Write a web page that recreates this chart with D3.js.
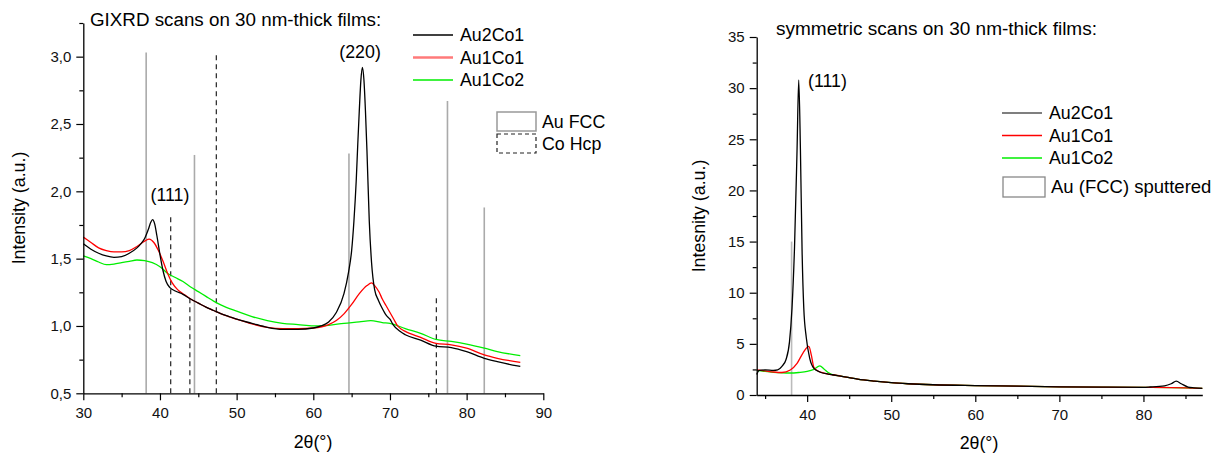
<!DOCTYPE html>
<html>
<head>
<meta charset="utf-8">
<script src="https://cdn.jsdelivr.net/npm/d3@7"></script>
<style>
body { margin: 0; background: #fff; }
svg { font-family: "Liberation Sans", Arial, sans-serif; }
.domain { stroke: #000; stroke-width: 1.3; }
.tick line { stroke: #000; stroke-width: 1.2; }
.tick text { font-size: 15px; fill: #111; }
</style>
</head>
<body>
<svg id="chart" width="1215" height="454"></svg>
<script>
// GIXRD scans (left panel), [2theta, intensity]
const gixrdAu2Co1 = [[30,1.61],[31,1.57],[32,1.54],[33,1.52],[34,1.51],[35,1.515],[36,1.54],[37,1.58],[37.5,1.61],[38,1.65],[38.5,1.72],[38.8,1.77],[39.05,1.79],[39.3,1.76],[39.6,1.67],[40,1.53],[40.4,1.41],[40.8,1.33],[41.3,1.285],[42,1.26],[43,1.235],[44,1.2],[45,1.17],[46,1.14],[47,1.115],[48,1.09],[49,1.07],[50,1.05],[52,1.02],[54,0.99],[56,0.975],[58,0.975],[60,0.985],[61,1.0],[62,1.03],[63,1.1],[64,1.24],[64.6,1.4],[65,1.56],[65.3,1.78],[65.6,2.08],[65.8,2.35],[66,2.6],[66.2,2.82],[66.4,2.92],[66.6,2.83],[66.8,2.6],[67,2.3],[67.3,1.78],[67.6,1.47],[68,1.27],[68.5,1.19],[69,1.13],[69.5,1.08],[70,1.05],[70.4,1.01],[71.3,0.96],[72,0.935],[74,0.895],[76,0.85],[78,0.84],[80,0.81],[82.3,0.76],[84,0.735],[86,0.71],[87,0.70]];
const gixrdAu1Co1 = [[30,1.66],[31,1.62],[32,1.58],[33,1.56],[34,1.55],[35,1.55],[36,1.56],[37,1.59],[38,1.63],[38.6,1.645],[39.2,1.62],[39.8,1.56],[40.4,1.48],[41,1.39],[41.6,1.32],[42.3,1.27],[43,1.24],[44,1.2],[45,1.17],[46,1.14],[47,1.115],[48,1.09],[50,1.05],[52,1.015],[54,0.99],[56,0.98],[58,0.98],[60,0.985],[62,1.01],[63,1.04],[64,1.09],[65,1.16],[66,1.24],[67,1.3],[67.6,1.32],[68,1.3],[68.6,1.25],[69,1.2],[69.5,1.15],[70,1.1],[70.5,1.05],[71,1.0],[71.5,0.975],[72,0.96],[74,0.915],[76,0.87],[78,0.86],[80,0.835],[82.3,0.785],[84,0.76],[87,0.73]];
const gixrdAu1Co2 = [[30,1.52],[31,1.5],[32,1.475],[33,1.455],[34,1.46],[35,1.47],[36,1.48],[37,1.49],[38,1.485],[39,1.47],[40,1.44],[41,1.39],[42,1.36],[43,1.33],[44,1.29],[45,1.255],[46,1.22],[47,1.185],[48,1.155],[50,1.11],[52,1.07],[54,1.04],[56,1.02],[58,1.01],[60,1.0],[62,1.005],[64,1.02],[66,1.03],[67.5,1.04],[69,1.025],[70,1.02],[72,0.98],[74,0.945],[76,0.9],[78,0.885],[80,0.865],[82.3,0.835],[84,0.81],[87,0.78]];

// reference peak positions [2theta, line top]
const auFccRefs = [[38.2,3.03],[44.5,2.27],[64.65,2.28],[77.5,2.67],[82.3,1.88]];
const coHcpRefs = [[41.4,1.82],[43.9,1.2],[47.35,3.03],[76.05,1.22]];

// symmetric scans (right panel)
const symAu2Co1 = [[34,2.0],[34.3,2.4],[35,2.45],[36,2.4],[36.5,2.45],[37,2.8],[37.5,3.5],[37.9,5.2],[38.2,8.5],[38.5,14.5],[38.8,24],[39.0,30.8],[39.2,24],[39.4,14],[39.6,8.5],[39.9,5.6],[40.3,3.6],[40.8,2.6],[41.5,2.25],[42.5,2.05],[43,1.98],[44,1.85],[45,1.7],[46,1.55],[48,1.35],[50,1.2],[52,1.1],[55,1.0],[60,0.92],[65,0.86],[70,0.8],[75,0.77],[80,0.75],[80.8,0.78],[82.5,0.9],[83.3,1.1],[83.9,1.35],[84.5,1.1],[85.3,0.78],[86,0.7],[87,0.65]];
const symAu1Co1 = [[34,2.45],[35,2.35],[36,2.25],[37,2.2],[38,2.45],[38.8,3.1],[39.5,4.1],[40.2,4.75],[40.5,3.9],[40.8,2.7],[41.4,2.3],[42,2.15],[43,1.98],[44,1.85],[45,1.7],[46,1.55],[48,1.35],[50,1.2],[52,1.1],[55,1.0],[60,0.92],[65,0.86],[70,0.8],[75,0.77],[80,0.75],[85,0.7],[87,0.65]];
const symAu1Co2 = [[34,2.4],[35,2.3],[36,2.22],[37,2.17],[38,2.15],[39,2.2],[40,2.3],[40.8,2.5],[41.5,2.85],[42,2.55],[42.5,2.2],[43,2.0],[44,1.85],[45,1.7],[46,1.55],[48,1.35],[50,1.2],[52,1.1],[55,1.0],[60,0.92],[65,0.86],[70,0.8],[75,0.77],[80,0.75],[85,0.7],[87,0.65]];
const symAuRefs = [[38.15,15]];

// ticks
const gixrdXMajor = [30,40,50,60,70,80,90];
const gixrdXMinor = [35,45,55,65,75,85];
const gixrdYMajor = [0.5,1.0,1.5,2.0,2.5,3.0];
const gixrdYMinor = [0.75,1.25,1.75,2.25,2.75,3.25];
const symXMajor = [40,50,60,70,80];
const symXMinor = [35,45,55,65,75,85];
const symYMajor = [0,5,10,15,20,25,30,35];
const symYMinor = [2.5,7.5,12.5,17.5,22.5,27.5,32.5];

const commaFmt = d3.formatLocale({decimal: ",", thousands: ".", grouping: [3], currency: ["", ""]}).format(".1f");

const svg = d3.select("#chart");

function drawAxes(g, x, y, c) {
    const y0 = y.range()[0], x0 = x.range()[0];
    // minor ticks first
    g.append("g").attr("transform", `translate(0,${y0})`)
        .call(d3.axisBottom(x).tickValues(c.xMinor).tickSize(4).tickFormat("").tickSizeOuter(0))
        .select(".domain").remove();
    g.append("g").attr("transform", `translate(${x0},0)`)
        .call(d3.axisLeft(y).tickValues(c.yMinor).tickSize(4).tickFormat("").tickSizeOuter(0))
        .select(".domain").remove();
    g.append("g").attr("transform", `translate(0,${y0})`)
        .call(d3.axisBottom(x).tickValues(c.xMajor).tickSize(7).tickPadding(7).tickSizeOuter(0).tickFormat(d3.format("d")));
    g.append("g").attr("transform", `translate(${x0},0)`)
        .call(d3.axisLeft(y).tickValues(c.yMajor).tickSize(7).tickPadding(5).tickSizeOuter(0).tickFormat(c.yFormat));
}

function addCurves(g, x, y, series) {
    const line = d3.line().x(d => x(d[0])).y(d => y(d[1])).curve(d3.curveMonotoneX);
    series.forEach(s => {
        g.append("path")
            .datum(s.data)
            .attr("fill", "none")
            .attr("stroke", s.color)
            .attr("stroke-width", 1.3)
            .attr("d", line);
    });
}

function addRefs(g, x, y, refs, color, dash, width) {
    g.selectAll(null)
        .data(refs)
        .enter().append("line")
        .attr("x1", d => x(d[0])).attr("x2", d => x(d[0]))
        .attr("y1", y(y.domain()[0])).attr("y2", d => y(d[1]))
        .attr("stroke", color)
        .attr("stroke-width", width)
        .attr("stroke-dasharray", dash);
}

function lineLegend(g, items, lx, ly, gap) {
    items.forEach((it, i) => {
        const yy = ly + i * gap;
        g.append("line").attr("x1", lx).attr("x2", lx + 40).attr("y1", yy).attr("y2", yy)
            .attr("stroke", it.color).attr("stroke-width", it.width);
        g.append("text").attr("x", lx + 47).attr("y", yy + 6)
            .attr("font-size", 17.8).text(it.name);
    });
}

// ---------- left panel: GIXRD ----------
{
    const x = d3.scaleLinear().domain([30, 90]).range([83.3, 543.3]);
    const y = d3.scaleLinear().domain([0.5, 3.25]).range([393.3, 23]);
    const g = svg.append("g");

    addRefs(g, x, y, auFccRefs, "#aaa", null, 1.6);
    addRefs(g, x, y, coHcpRefs, "#222", "5,4", 1.2);
    addCurves(g, x, y, [
        {data: gixrdAu1Co2, color: "#00ee00"},
        {data: gixrdAu1Co1, color: "#ff0000"},
        {data: gixrdAu2Co1, color: "#000"}
    ]);
    drawAxes(g, x, y, {xMajor: gixrdXMajor, xMinor: gixrdXMinor, yMajor: gixrdYMajor, yMinor: gixrdYMinor, yFormat: commaFmt});

    g.append("text").attr("x", 90).attr("y", 26).attr("font-size", 18.8)
        .text("GIXRD scans on 30 nm-thick films:");
    g.append("text").attr("x", x(41.3)).attr("y", y(1.93)).attr("text-anchor", "middle")
        .attr("font-size", 17.8).text("(111)");
    g.append("text").attr("x", x(66.1)).attr("y", y(2.99)).attr("text-anchor", "middle")
        .attr("font-size", 17.8).text("(220)");

    g.append("text").attr("transform", "translate(25,208) rotate(-90)")
        .attr("text-anchor", "middle").attr("font-size", 17.8).text("Intensity (a.u.)");
    g.append("text").attr("x", 313).attr("y", 448).attr("text-anchor", "middle")
        .attr("font-size", 17.8).text("2θ(°)");

    lineLegend(g, [
        {name: "Au2Co1", color: "#000", width: 1.3},
        {name: "Au1Co1", color: "#ff7a7a", width: 2.5},
        {name: "Au1Co2", color: "#00ee00", width: 1.3}
    ], 413, 35, 22.5);

    g.append("rect").attr("x", 497).attr("y", 112).attr("width", 39).attr("height", 19)
        .attr("fill", "none").attr("stroke", "#999").attr("stroke-width", 1.5);
    g.append("text").attr("x", 542).attr("y", 128).attr("font-size", 17.8).text("Au FCC");
    g.append("rect").attr("x", 497).attr("y", 134).attr("width", 39).attr("height", 19)
        .attr("fill", "none").attr("stroke", "#222").attr("stroke-width", 1.2).attr("stroke-dasharray", "4,3");
    g.append("text").attr("x", 542).attr("y", 150).attr("font-size", 17.8).text("Co Hcp");
}

// ---------- right panel: symmetric scans ----------
{
    const x = d3.scaleLinear().domain([34, 87]).range([756.7, 1202.3]);
    const y = d3.scaleLinear().domain([0, 35]).range([395, 37]);
    const g = svg.append("g");

    addRefs(g, x, y, symAuRefs, "#bbb", null, 1.6);
    addCurves(g, x, y, [
        {data: symAu1Co2, color: "#00ee00"},
        {data: symAu1Co1, color: "#ff0000"},
        {data: symAu2Co1, color: "#000"}
    ]);
    drawAxes(g, x, y, {xMajor: symXMajor, xMinor: symXMinor, yMajor: symYMajor, yMinor: symYMinor, yFormat: d3.format("d")});

    g.append("text").attr("x", 776).attr("y", 35).attr("font-size", 19)
        .text("symmetric scans on 30 nm-thick films:");
    g.append("text").attr("x", x(40.1)).attr("y", y(30.1)).attr("font-size", 17.8).text("(111)");

    g.append("text").attr("transform", "translate(705,216) rotate(-90)")
        .attr("text-anchor", "middle").attr("font-size", 17.8).text("Intesnity (a.u.)");
    g.append("text").attr("x", 979).attr("y", 449).attr("text-anchor", "middle")
        .attr("font-size", 17.8).text("2θ(°)");

    lineLegend(g, [
        {name: "Au2Co1", color: "#000", width: 1.2},
        {name: "Au1Co1", color: "#ff0000", width: 1.5},
        {name: "Au1Co2", color: "#00ee00", width: 1.5}
    ], 1002, 113, 22.5);

    g.append("rect").attr("x", 1003).attr("y", 177).attr("width", 42).attr("height", 20)
        .attr("fill", "none").attr("stroke", "#888").attr("stroke-width", 1.3);
    g.append("text").attr("x", 1051).attr("y", 193).attr("font-size", 18.5).text("Au (FCC) sputtered");
}
</script>
</body>
</html>
